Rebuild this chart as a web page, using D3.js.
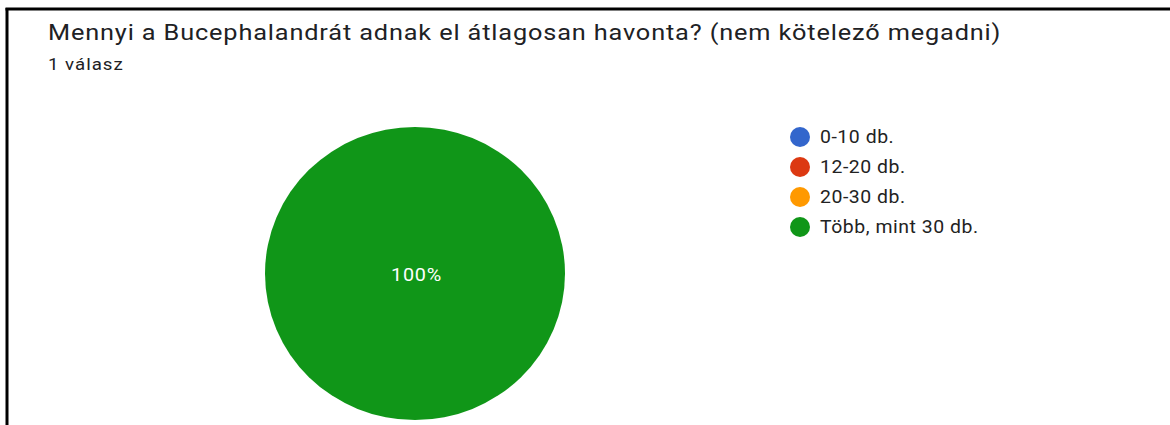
<!DOCTYPE html>
<html><head><meta charset="utf-8">
<script src="https://cdn.jsdelivr.net/npm/d3@7"></script>
<style>html,body{margin:0;padding:0;background:#fff;overflow:hidden}</style>
</head><body>
<svg id="c" width="1170" height="425"></svg>
<script>
const title = "Mennyi a Bucephalandrát adnak el átlagosan havonta? (nem kötelező megadni)";
const subtitle = "1 válasz";
const categories = ["0-10 db.", "12-20 db.", "20-30 db.", "Több, mint 30 db."];
const values = [0, 0, 0, 1];
const colors = ["#3366cc", "#dc3912", "#ff9900", "#109618"];

const svg = d3.select("#c");
const font = "Roboto, 'Noto Sans', sans-serif";

// frame
svg.append("line").attr("x1", 7).attr("x2", 7).attr("y1", 8).attr("y2", 425)
  .attr("stroke", "#000").attr("stroke-width", 3);
svg.append("line").attr("x1", 5.5).attr("x2", 1170).attr("y1", 9).attr("y2", 9)
  .attr("stroke", "#000").attr("stroke-width", 3);

function wideText(parent, x, y, str, size, sx, ls, fill, anchor) {
  const t = parent.append("g").attr("transform", `translate(${x},${y}) scale(${sx},1)`)
    .append("text").attr("font-family", font).attr("font-size", size)
    .attr("letter-spacing", ls).attr("fill", fill).text(str);
  if (anchor) t.attr("text-anchor", anchor);
  return t;
}

wideText(svg, 48, 40, title, 22, 1.15, 0.75, "#202124");
wideText(svg, 48, 70, subtitle, 17, 1.1, 0.9, "#202124");

const color = d3.scaleOrdinal().domain(categories).range(colors);
const data = categories.map((c, i) => ({cat: c, v: values[i]}));
const pie = d3.pie().sort(null).value(d => d.v);
const r = 150;
const arc = d3.arc().innerRadius(0).outerRadius(r);
const g = svg.append("g").attr("transform", "translate(415,273.5) scale(1,0.977)");
const arcs = pie(data);
const total = d3.sum(values);
g.selectAll("path").data(arcs.filter(d => d.data.v > 0)).join("path")
  .attr("d", arc).attr("fill", d => color(d.data.cat));
arcs.filter(d => d.data.v > 0).forEach(d => {
  const full = (d.endAngle - d.startAngle) >= 2 * Math.PI - 1e-6;
  const p = full ? [1.5, 1.5] : d3.arc().innerRadius(r * 0.6).outerRadius(r * 0.6).centroid(d);
  wideText(svg, 415 + p[0], 273.5 + p[1] * 0.977 + 6.5, d3.format(".0%")(d.data.v / total),
    18, 1.1, 0.7, "#fff", "middle");
});

const ly = d3.scalePoint().domain(categories).range([137, 227]);
categories.forEach(c => {
  svg.append("circle").attr("cx", 800).attr("cy", ly(c)).attr("r", 10).attr("fill", color(c));
  wideText(svg, 820, ly(c) + 6.3, c, 18, 1.08, 0.5, "#222");
});
</script>
</body></html>
